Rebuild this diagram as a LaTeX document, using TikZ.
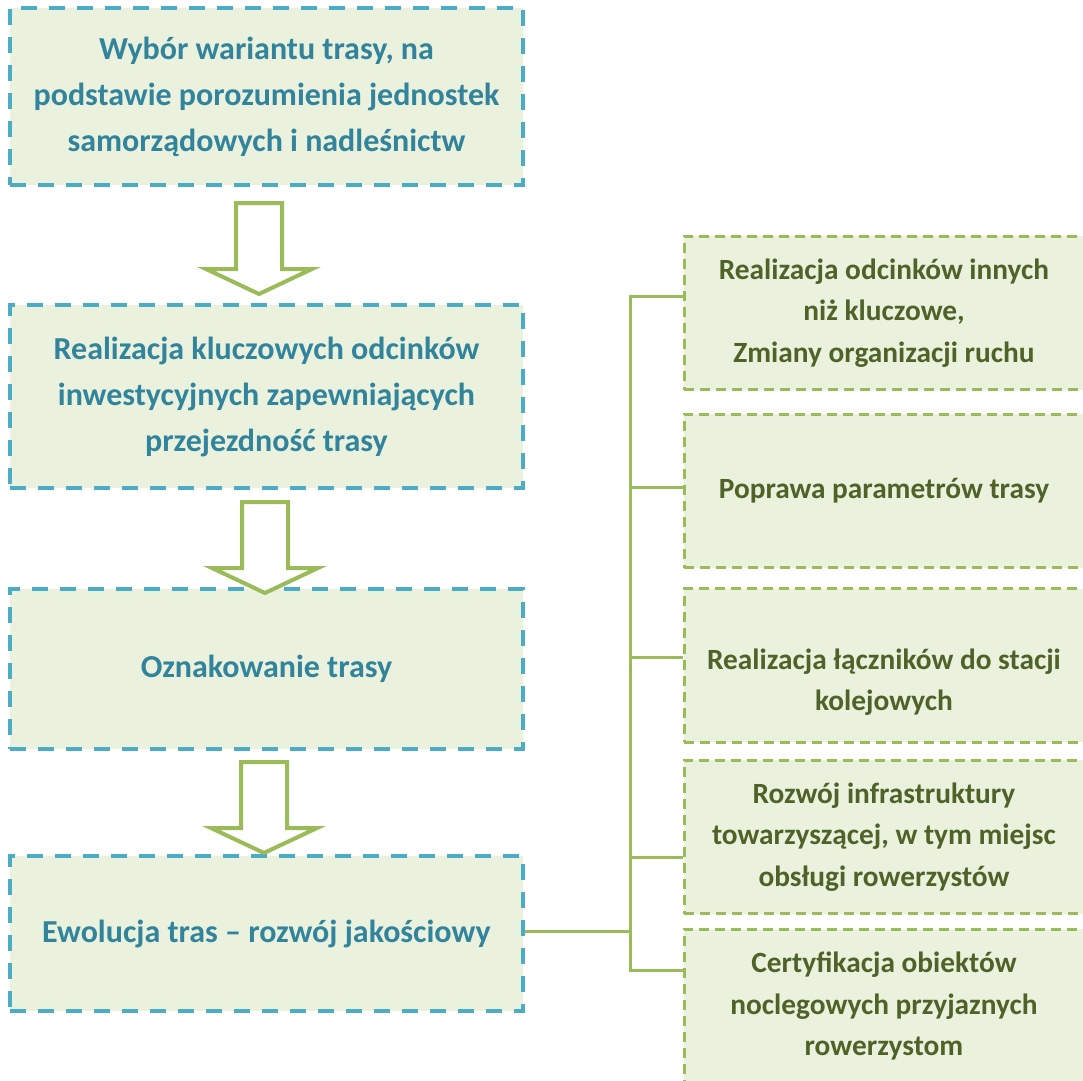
\documentclass[tikz,border=0pt]{standalone}
\usepackage{fontspec}
\setmainfont{Carlito}
\definecolor{lineblue}{HTML}{4BACC6}
\definecolor{textblue}{HTML}{31849B}
\definecolor{boxfill}{HTML}{EAF1DD}
\definecolor{leafgreen}{HTML}{9BBB59}
\definecolor{darkgreen}{HTML}{4F6228}

\begin{document}
\begin{tikzpicture}[x=0.75pt,y=-0.75pt,
  mainbox/.style={draw=lineblue, line width=3pt, dash pattern=on 12pt off 9pt, fill=boxfill, text=textblue, align=center, minimum width=384.75pt, inner sep=0pt, font=\fontsize{24}{34.5}\selectfont\bfseries},
  sidetext/.style={text=darkgreen, align=center, inner sep=0pt, font=\fontsize{22}{31}\selectfont\bfseries},
  sidebox/.style={sidetext, draw=leafgreen, line width=2.25pt, dash pattern=on 7.5pt off 4.5pt, fill=boxfill, minimum width=300pt, minimum height=115pt},
  link/.style={draw=leafgreen, line width=2.25pt},
  downarrow/.pic={\draw[leafgreen, line width=3pt, fill=white, miter limit=10] (-23,0) -- (23,0) -- (23,66) -- (53,66) -- (0,91) -- (-53,66) -- (-23,66) -- cycle;}]
\useasboundingbox (0,0) rectangle (1083,1081);
\clip (0,0) rectangle (1083,1081);

% steps on the left
\node[mainbox, minimum height=132.75pt] (b1) at (266.5,96.5) {Wybór wariantu trasy, na\\podstawie porozumienia jednostek\\samorządowych i nadleśnictw};
\node[mainbox, minimum height=137.25pt] (b2) at (266.5,396.5) {Realizacja kluczowych odcinków\\inwestycyjnych zapewniających\\przejezdność trasy};
\node[mainbox, minimum height=120pt] (b3) at (266.5,669) {Oznakowanie trasy};
\node[mainbox, minimum height=116.25pt] (b4) at (266.5,933.5) {Ewolucja tras -- rozwój jakościowy};

\pic at (259,203) {downarrow};
\pic at (265,502) {downarrow};
\pic at (264,762) {downarrow};

% quality measures on the right
\node[sidebox] (r1) at (884,313) {Realizacja odcinków innych\\niż kluczowe,\\Zmiany organizacji ruchu};
\node[sidebox] (r2) at (884,491) {Poprawa parametrów trasy};
\node[sidebox, label={[sidetext, yshift=-12.75pt]center:Realizacja łączników do stacji\\kolejowych}] (r3) at (884,665.5) {};
\node[sidebox] (r4) at (884,837) {Rozwój infrastruktury\\towarzyszącej, w tym miejsc\\obsługi rowerzystów};
\node[sidebox] (r5) at (884,1006) {Certyfikacja obiektów\\noclegowych przyjaznych\\rowerzystom};

\coordinate (trunk) at (630,931);
\draw[link] (b4.east |- trunk) -- (trunk);
\foreach \r/\y in {r1/296,r2/487,r3/657,r4/857,r5/970}
  \draw[link] (\r.west |- 0,\y) -| (trunk);

\end{tikzpicture}
\end{document}
